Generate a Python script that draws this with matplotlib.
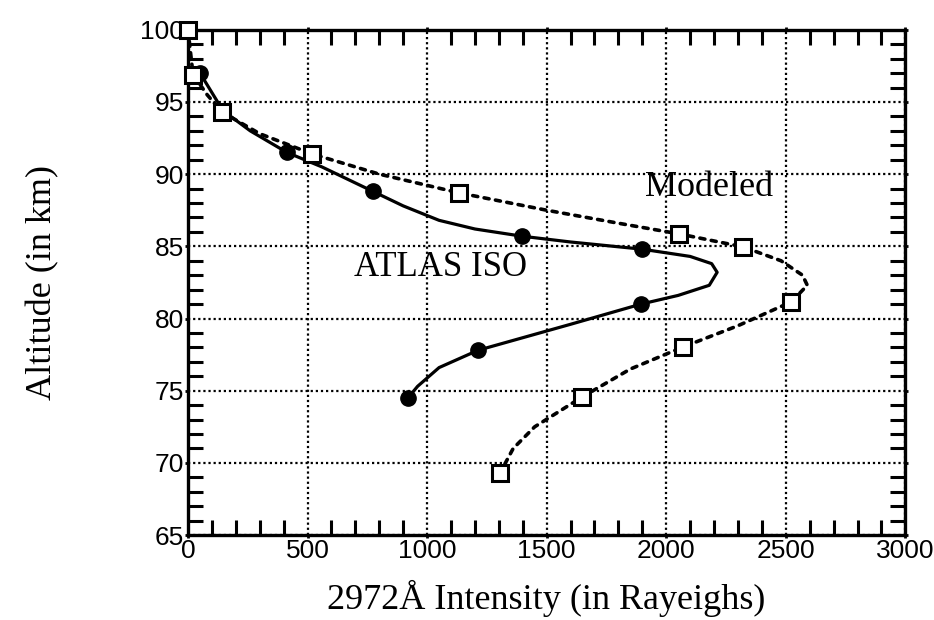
import matplotlib
matplotlib.use("Agg")
import matplotlib.pyplot as plt
from matplotlib.ticker import MultipleLocator

# ATLAS ISO measured points (filled circles)
atlas_x = [50, 146, 414, 774, 1397, 1900, 1895, 1213, 920]
atlas_y = [97.0, 94.4, 91.5, 88.8, 85.7, 84.8, 81.0, 77.8, 74.5]
# ATLAS ISO smooth curve
atlas_curve_x = [50, 146, 260, 414, 560, 774, 900, 1050, 1200, 1397, 1600, 1900,
                 2100, 2190, 2213, 2180, 2050, 1895, 1600, 1213, 1050, 960, 920]
atlas_curve_y = [97.0, 94.4, 93.0, 91.5, 90.5, 88.8, 87.8, 86.8, 86.2, 85.7, 85.3, 84.8,
                 84.3, 83.8, 83.2, 82.3, 81.6, 81.0, 79.6, 77.8, 76.6, 75.3, 74.5]

# Modeled points (open squares)
model_x = [0, 21, 142, 519, 1134, 2054, 2322, 2523, 2071, 1649, 1305]
model_y = [100.0, 96.9, 94.3, 91.4, 88.7, 85.86, 84.96, 81.15, 78.03, 74.57, 69.3]
# Modeled curve
model_curve_x = [0, 10, 21, 80, 142, 300, 519, 800, 1134, 1500, 1800, 2054, 2322,
                 2480, 2570, 2590, 2523, 2300, 2071, 1850, 1649, 1450, 1360, 1305]
model_curve_y = [100.0, 98.5, 96.9, 95.5, 94.3, 92.8, 91.4, 90.0, 88.7, 87.5, 86.6, 85.86,
                 84.96, 84.0, 83.0, 82.3, 81.15, 79.5, 78.03, 76.5, 74.57, 72.5, 71.0, 69.3]

x_ticks = [0, 500, 1000, 1500, 2000, 2500, 3000]
y_ticks = [65, 70, 75, 80, 85, 90, 95, 100]

serif = ["Liberation Serif", "DejaVu Serif"]

fig = plt.figure(figsize=(9.34, 6.2), dpi=100)
ax = fig.add_axes([0.2013, 0.137, 0.768, 0.815])

ax.set_xlim(0, 3000)
ax.set_ylim(65, 100)

ax.grid(True, which="major", color="black", linestyle=(0, (1, 1.3)), linewidth=1.6)
ax.set_axisbelow(True)

ax.plot(atlas_curve_x, atlas_curve_y, color="black", linewidth=2.3, zorder=3)
ax.plot(atlas_x, atlas_y, linestyle="none", marker="o", markersize=11,
        color="black", zorder=4)

ax.plot(model_curve_x, model_curve_y, color="black", linewidth=2.6,
        linestyle=(0, (1.4, 1.8)), dash_capstyle="round", zorder=3)
ax.plot(model_x, model_y, linestyle="none", marker="s", markersize=11,
        markerfacecolor="white", markeredgecolor="black", markeredgewidth=2.2,
        zorder=5, clip_on=False)

ax.text(1058, 83.5, "ATLAS ISO", fontsize=25, family=serif, ha="center", va="center")
ax.text(2180, 89.05, "Modeled", fontsize=26, family=serif, ha="center", va="center")

ax.set_xticks(x_ticks)
ax.set_yticks(y_ticks)
ax.xaxis.set_minor_locator(MultipleLocator(100))
ax.yaxis.set_minor_locator(MultipleLocator(1))
ax.tick_params(which="minor", direction="in", length=11, width=2.2,
               top=True, right=True, bottom=True, left=True)
ax.tick_params(which="major", direction="out", length=2, width=2,
               top=True, right=True, labelsize=19, pad=1)
for lab in ax.get_xticklabels() + ax.get_yticklabels():
    lab.set_family(["Liberation Sans", "DejaVu Sans"])

for sp in ax.spines.values():
    sp.set_linewidth(2.4)

ax.set_xlabel("2972Å Intensity (in Rayeighs)", fontsize=26, family=serif, labelpad=12)
ax.set_ylabel("Altitude (in km)", fontsize=26, family=serif, labelpad=58)

fig.savefig("out.png", dpi=100)
